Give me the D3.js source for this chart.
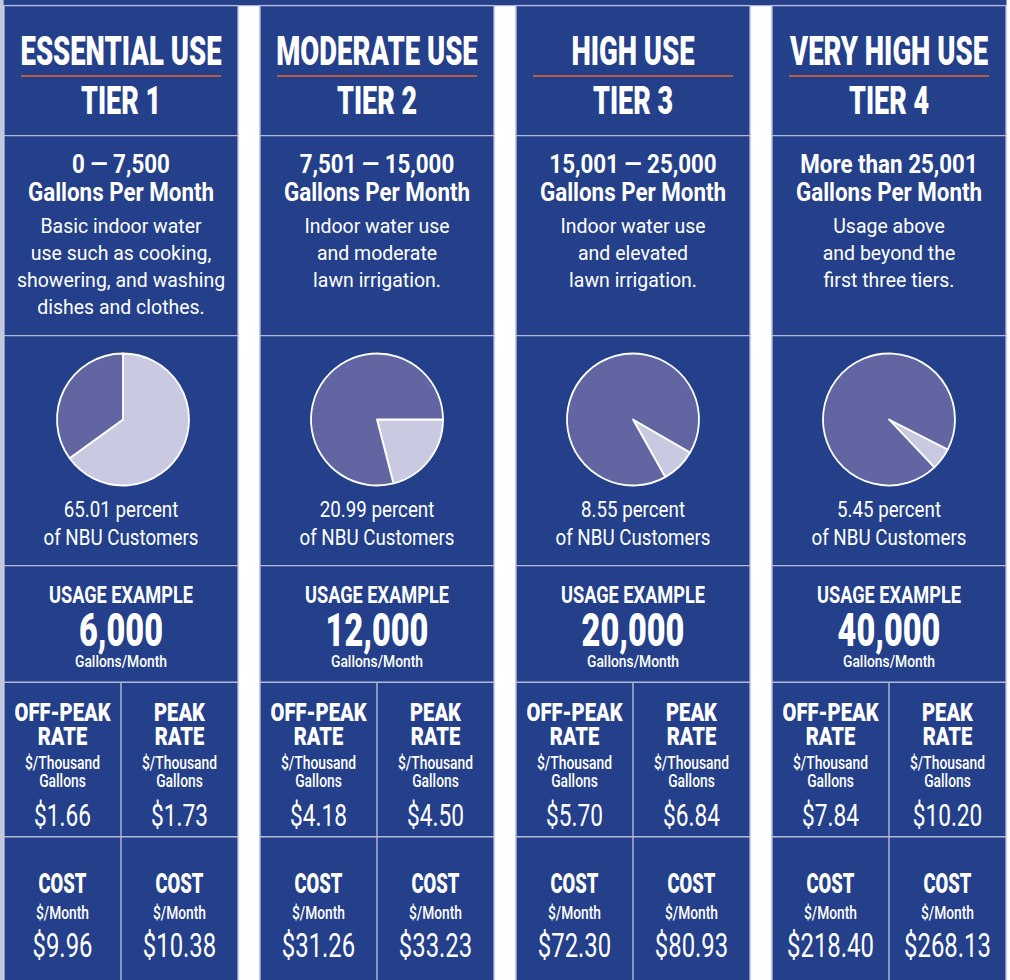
<!DOCTYPE html>
<html>
<head>
<meta charset="utf-8">
<script src="https://cdn.jsdelivr.net/npm/d3@7/dist/d3.min.js"></script>
<style>
  html, body { margin: 0; padding: 0; background: #ffffff; }
  svg { display: block; }
</style>
</head>
<body>
<div id="chart"></div>
<script>
// NBU water rate tiers: four columns, one per tier.

const tierNames   = ["ESSENTIAL USE", "MODERATE USE", "HIGH USE", "VERY HIGH USE"];
const tierLabels  = ["TIER 1", "TIER 2", "TIER 3", "TIER 4"];
const rangeLabels = ["0 — 7,500", "7,501 — 15,000", "15,001 — 25,000", "More than 25,001"];
const descriptions = [
  ["Basic indoor water", "use such as cooking,", "showering, and washing", "dishes and clothes."],
  ["Indoor water use", "and moderate", "lawn irrigation."],
  ["Indoor water use", "and elevated", "lawn irrigation."],
  ["Usage above", "and beyond the", "first three tiers."],
];
const customerPct  = [65.01, 20.99, 8.55, 5.45];   // percent of NBU customers
const usageExample = [6000, 12000, 20000, 40000];  // gallons / month
const offPeakRate  = [1.66, 4.18, 5.70, 7.84];     // $ / thousand gallons
const peakRate     = [1.73, 4.50, 6.84, 10.20];
const offPeakCost  = [9.96, 31.26, 72.30, 218.40]; // $ / month
const peakCost     = [10.38, 33.23, 80.93, 268.13];


const W = 1010, H = 980;
const blue   = "#24408a";
const rule   = "#b3bad8";
const orange = "#e8652b";
const sliceLight = "#c9cae2";
const sliceDark  = "#6166a3";
const FONT = "Roboto, 'Liberation Sans', sans-serif";

// where each pie's light wedge starts (degrees clockwise from 12 o'clock)
const pieStart = [0, 90, 120, 117];

// horizontal rules between the blocks of each column
const rowEdges = [5.6, 135.6, 335.6, 565.6, 682.2, 836.8];

const svg = d3.select("#chart")
  .append("svg")
  .attr("width", W)
  .attr("height", H);

// text styles: cap height in px, then squeezed horizontally so a sample
// string comes out at the width it has in the print layout
const styles = {
  title:     { cap: 28.5, weight: 900, sample: "ESSENTIAL USE",         width: 201 },
  tier:      { cap: 28,   weight: 900, sample: "TIER 1",                width: 80 },
  range:     { cap: 18.5, weight: 700, sample: "Gallons Per Month",     width: 186 },
  desc:      { cap: 14.5, weight: 400, sample: "showering, and washing", width: 208 },
  pct:       { cap: 15.5, weight: 400, sample: "of NBU Customers",      width: 155 },
  usageHead: { cap: 17,   weight: 700, sample: "USAGE EXAMPLE",         width: 144 },
  usageNum:  { cap: 33,   weight: 900, sample: "6,000",                 width: 84 },
  usageUnit: { cap: 12,   weight: 500, sample: "Gallons/Month",         width: 92 },
  rateHead:  { cap: 18,   weight: 900, sample: "OFF-PEAK",              width: 96 },
  rateUnit:  { cap: 13,   weight: 500, sample: "$/Thousand",            width: 75 },
  rateVal:   { cap: 22,   weight: 400, sample: "$1.66",                 width: 57 },
  costHead:  { cap: 20,   weight: 900, sample: "COST",                  width: 48 },
  costUnit:  { cap: 12.7, weight: 500, sample: "$/Month",               width: 53 },
  costVal:   { cap: 23.5, weight: 400, sample: "$9.96",                 width: 60 },
};

Object.values(styles).forEach(s => {
  s.size = s.cap / 0.711;
  const probe = svg.append("text")
    .attr("font-family", FONT)
    .attr("font-size", s.size)
    .attr("font-weight", s.weight)
    .text(s.sample);
  s.sx = s.width / probe.node().getComputedTextLength();
  probe.remove();
});

function label(cx, y, str, style) {
  svg.append("text")
    .attr("transform", `translate(${cx},${y}) scale(${style.sx},1)`)
    .attr("text-anchor", "middle")
    .attr("font-family", FONT)
    .attr("font-size", style.size)
    .attr("font-weight", style.weight)
    .attr("fill", "#ffffff")
    .text(str);
}

const x = d3.scaleBand()
  .domain(d3.range(tierNames.length))
  .range([4, 1006])
  .paddingInner(22 / 256);

const money = v => "$" + d3.format(".2f")(v);

// left edge strip and the band across the top
svg.append("rect").attr("x", 0).attr("y", 0).attr("width", 3.2).attr("height", H).attr("fill", "#c3c8de");
svg.append("rect").attr("x", 3.5).attr("y", 0).attr("width", 1003).attr("height", 5.6).attr("fill", blue);
svg.append("line")
  .attr("x1", 3.5).attr("x2", 1007).attr("y1", 5.6).attr("y2", 5.6)
  .attr("stroke", rule).attr("stroke-width", 1.4);


// COLUMNS

const arc = d3.arc().innerRadius(0).outerRadius(66);

tierNames.forEach((name, i) => {
  const x0 = x(i);
  const bw = x.bandwidth();
  const cx = x0 + bw / 2;
  const leftCx  = x0 + bw / 4;
  const rightCx = x0 + bw * 3 / 4;

  svg.append("rect")
    .attr("x", x0).attr("y", rowEdges[0])
    .attr("width", bw).attr("height", H)
    .attr("fill", blue)
    .attr("stroke", rule).attr("stroke-width", 1.4);

  rowEdges.slice(1).forEach(y => {
    svg.append("line")
      .attr("x1", x0).attr("x2", x0 + bw).attr("y1", y).attr("y2", y)
      .attr("stroke", rule).attr("stroke-width", 1.4);
  });

  // split the rate / cost blocks in two
  svg.append("line")
    .attr("x1", cx).attr("x2", cx)
    .attr("y1", rowEdges[4]).attr("y2", H)
    .attr("stroke", rule).attr("stroke-width", 1.4);

  // header
  label(cx, 65.3, name, styles.title);
  svg.append("line")
    .attr("x1", cx - 100).attr("x2", cx + 100)
    .attr("y1", 76).attr("y2", 76)
    .attr("stroke", orange).attr("stroke-width", 1.5);
  label(cx, 114, tierLabels[i], styles.tier);

  // range + description
  label(cx, 172.7, rangeLabels[i], styles.range);
  label(cx, 201, "Gallons Per Month", styles.range);
  descriptions[i].forEach((line, k) => label(cx, 232.7 + k * 27, line, styles.desc));

  // pie: share of customers in this tier
  const start = pieStart[i] * Math.PI / 180;
  const pie = d3.pie().sort(null).value(d => d.v)
    .startAngle(start).endAngle(start + 2 * Math.PI);
  const slices = pie([
    { v: customerPct[i],       c: sliceLight },
    { v: 100 - customerPct[i], c: sliceDark },
  ]);
  svg.append("g")
    .attr("transform", `translate(${cx + (i === 0 ? 2 : 0)},419.5)`)
    .selectAll("path")
    .data(slices)
    .join("path")
    .attr("d", arc)
    .attr("fill", d => d.data.c)
    .attr("stroke", "#ffffff")
    .attr("stroke-width", 1.8)
    .attr("stroke-linejoin", "round");

  label(cx, 517, d3.format(".2f")(customerPct[i]) + " percent", styles.pct);
  label(cx, 545, "of NBU Customers", styles.pct);

  // usage example
  label(cx, 602.7, "USAGE EXAMPLE", styles.usageHead);
  label(cx, 646, d3.format(",")(usageExample[i]), styles.usageNum);
  label(cx, 666.7, "Gallons/Month", styles.usageUnit);

  // rates
  label(leftCx, 720.7, "OFF-PEAK", styles.rateHead);
  label(leftCx, 745, "RATE", styles.rateHead);
  label(leftCx, 769, "$/Thousand", styles.rateUnit);
  label(leftCx, 786.7, "Gallons", styles.rateUnit);
  label(leftCx, 825.7, money(offPeakRate[i]), styles.rateVal);

  label(rightCx, 720.7, "PEAK", styles.rateHead);
  label(rightCx, 745, "RATE", styles.rateHead);
  label(rightCx, 769, "$/Thousand", styles.rateUnit);
  label(rightCx, 786.7, "Gallons", styles.rateUnit);
  label(rightCx, 825.7, money(peakRate[i]), styles.rateVal);

  // monthly cost
  label(leftCx, 892.7, "COST", styles.costHead);
  label(leftCx, 918.7, "$/Month", styles.costUnit);
  label(leftCx, 956.7, money(offPeakCost[i]), styles.costVal);

  label(rightCx, 892.7, "COST", styles.costHead);
  label(rightCx, 918.7, "$/Month", styles.costUnit);
  label(rightCx, 956.7, money(peakCost[i]), styles.costVal);
});
</script>
</body>
</html>
